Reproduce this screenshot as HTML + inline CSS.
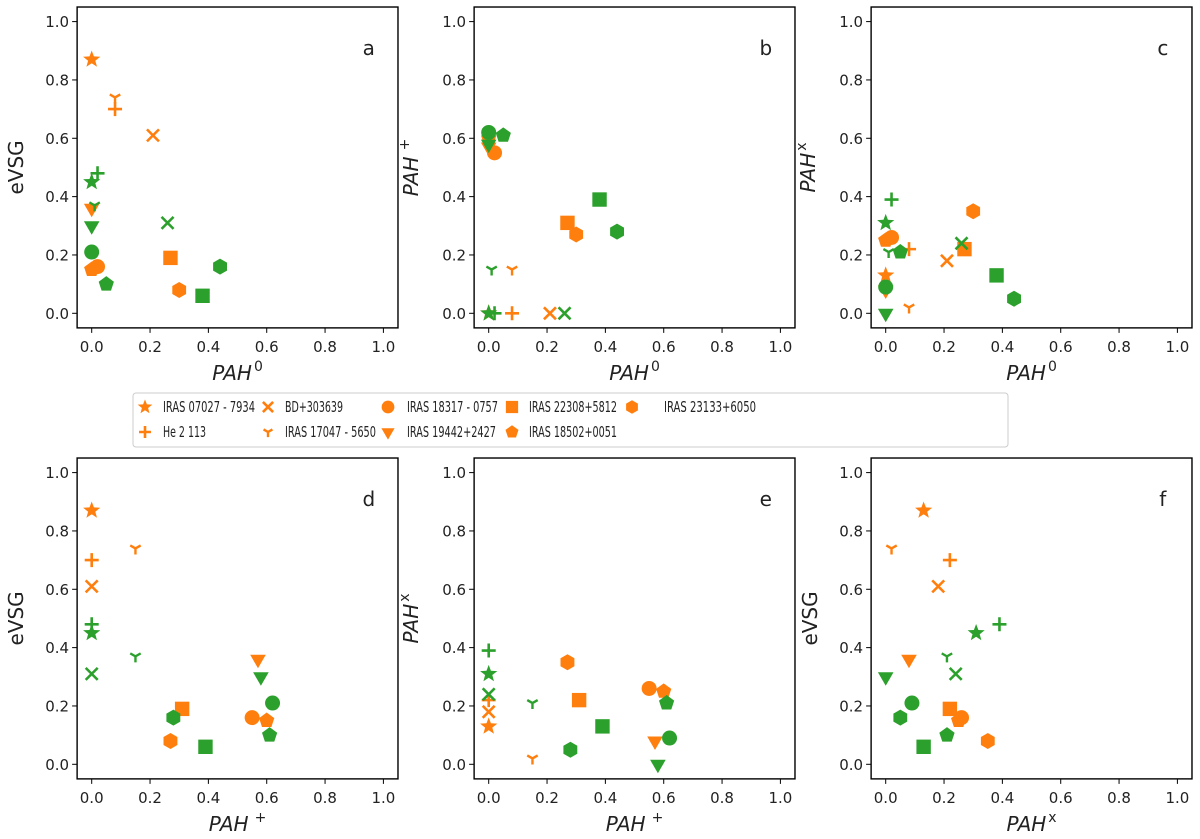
<!DOCTYPE html>
<html><head><meta charset="utf-8"><style>
html,body{margin:0;padding:0;background:#fff}
svg{display:block}
text{font-family:"DejaVu Sans","Liberation Sans",sans-serif;fill:#222}
</style></head><body>
<svg id="fig" width="1200" height="839" viewBox="0 0 1200 839" xmlns="http://www.w3.org/2000/svg"></svg>
<script>
// Data: one entry per object (marker), orange and green groups
const markers = ['star','plus','x','tri','circle','vtri','square','pent','hex'];
const orangePAH0 = [0.00,0.08,0.21,0.08,0.02,0.00,0.27,0.00,0.30];
const orangePAHp = [0.00,0.00,0.00,0.15,0.55,0.57,0.31,0.60,0.27];
const orangePAHx = [0.13,0.22,0.18,0.02,0.26,0.08,0.22,0.25,0.35];
const orangeEVSG = [0.87,0.70,0.61,0.74,0.16,0.36,0.19,0.15,0.08];
const greenPAH0 = [0.00,0.02,0.26,0.01,0.00,0.00,0.38,0.05,0.44];
const greenPAHp = [0.00,0.00,0.00,0.15,0.62,0.58,0.39,0.61,0.28];
const greenPAHx = [0.31,0.39,0.24,0.21,0.09,0.00,0.13,0.21,0.05];
const greenEVSG = [0.45,0.48,0.31,0.37,0.21,0.30,0.06,0.10,0.16];
const ticks = [0,0.2,0.4,0.6,0.8,1.0];
const tickLabels = ['0.0','0.2','0.4','0.6','0.8','1.0'];
const legendLabels = ['IRAS 07027 - 7934','He 2 113','BD+303639','IRAS 17047 - 5650','IRAS 18317 - 0757','IRAS 19442+2427','IRAS 22308+5812','IRAS 18502+0051','IRAS 23133+6050'];

const NS='http://www.w3.org/2000/svg';
const svg=document.getElementById('fig');
const OR='#ff7f0e', GR='#2ca02c';
function mk(tag,attrs,parent){const e=document.createElementNS(NS,tag);for(const k in attrs)e.setAttribute(k,attrs[k]);(parent||svg).appendChild(e);return e;}
function poly(n,r,rot,cx,cy){let p=[];for(let i=0;i<n;i++){const a=rot+i*2*Math.PI/n;p.push((cx+r*Math.cos(a)).toFixed(1)+','+(cy+r*Math.sin(a)).toFixed(1));}return p.join(' ');}
function drawMarker(g,m,cx,cy,col,s){
  s=s||1;let e;
  if(m==='star'){let p=[];for(let i=0;i<10;i++){const r=(i%2?3.8:9)*s;const a=-Math.PI/2+i*Math.PI/5;p.push((cx+r*Math.cos(a)).toFixed(1)+','+(cy+r*Math.sin(a)).toFixed(1));}e=mk('polygon',{points:p.join(' '),fill:col},g);}
  else if(m==='plus'){e=mk('path',{d:`M${cx-7*s},${cy}H${cx+7*s}M${cx},${cy-7*s}V${cy+7*s}`,stroke:col,'stroke-width':2.6,fill:'none'},g);}
  else if(m==='x'){const d=6*s;e=mk('path',{d:`M${cx-d},${cy-d}L${cx+d},${cy+d}M${cx-d},${cy+d}L${cx+d},${cy-d}`,stroke:col,'stroke-width':2.6,fill:'none'},g);}
  else if(m==='tri'){const d=6*s;e=mk('path',{d:`M${cx},${cy}V${cy+d}M${cx},${cy}L${cx-d*0.87},${cy-d*0.5}M${cx},${cy}L${cx+d*0.87},${cy-d*0.5}`,stroke:col,'stroke-width':2.4,fill:'none'},g);}
  else if(m==='circle'){e=mk('circle',{cx:cx,cy:cy,r:7.5*s,fill:col},g);}
  else if(m==='vtri'){e=mk('polygon',{points:poly(3,9*s,Math.PI/2,cx,cy),fill:col},g);}
  else if(m==='square'){const d=7.2*s;e=mk('rect',{x:cx-d,y:cy-d,width:2*d,height:2*d,fill:col},g);}
  else if(m==='pent'){e=mk('polygon',{points:poly(5,8*s,-Math.PI/2,cx,cy),fill:col},g);}
  else if(m==='hex'){e=mk('polygon',{points:poly(6,8*s,-Math.PI/2,cx,cy),fill:col},g);}
  return e;
}
const vars={P0:[orangePAH0,greenPAH0],Pp:[orangePAHp,greenPAHp],Px:[orangePAHx,greenPAHx],E:[orangeEVSG,greenEVSG]};
const labelSup={P0:'0',Pp:'+',Px:'x'};
const panels=[['a','P0','E',0,0],['b','P0','Pp',1,0],['c','P0','Px',2,0],['d','Pp','E',0,1],['e','Pp','Px',1,1],['f','Px','E',2,1]];
const SC=291.7;
function axLabel(g,v,x,y,rot){
  const t=mk('text',{x:x,y:y,'font-size':20,'text-anchor':'middle'},g);
  if(rot)t.setAttribute('transform',`rotate(-90 ${x} ${y})`);
  if(v==='E'){t.textContent='eVSG';return t;}
  const a=mk('tspan',{'font-style':'italic'},t);a.textContent='PAH';
  const b=mk('tspan',{'font-size':14,dy:-9,dx:v==='Pp'?6:2},t);b.textContent=labelSup[v];
  return t;
}
panels.forEach(([lab,xv,yv,c,r])=>{
  const ox=91.7+397*c, oy=313.3+451*r;
  const X=v=>ox+v*SC, Y=v=>oy-v*SC;
  const g=mk('g',{});
  
  
  const frame=mk('rect',{x:X(-0.05),y:Y(1.05),width:1.1*SC,height:1.1*SC,fill:'none',stroke:'#000','stroke-width':1.4},g);
  
  
  ticks.forEach((t,i)=>{
    mk('line',{x1:X(t),x2:X(t),y1:Y(-0.05),y2:Y(-0.05)+5,stroke:'#000','stroke-width':1},g);
    const tx=mk('text',{x:X(t),y:Y(-0.05)+24,'font-size':15,'text-anchor':'middle'},g);tx.textContent=tickLabels[i];
    
    
    mk('line',{x1:X(-0.05)-5,x2:X(-0.05),y1:Y(t),y2:Y(t),stroke:'#000','stroke-width':1},g);
    const ty=mk('text',{x:X(-0.05)-8,y:Y(t)+5.5,'font-size':15,'text-anchor':'end'},g);ty.textContent=tickLabels[i];
    
    
  });
  const xl=axLabel(g,xv,X(0.5),Y(-0.05)+52,false);
  
  
  const yl=axLabel(g,yv,X(-0.05)-58+(yv==='E'?4:2),Y(0.5),true);
  
  
  const pl=mk('text',{x:X(0.95),y:Y(0.9)+4,'font-size':20,'text-anchor':'middle'},g);pl.textContent=lab;
  
  
  [0,1].forEach(gi=>{
    const col=gi?GR:OR;
    markers.forEach((m,i)=>{
      const e=drawMarker(g,m,X(vars[xv][gi][i]),Y(vars[yv][gi][i]),col);
      
      
    });
  });
});
// legend
const lg=mk('g',{});


mk('rect',{x:133,y:393,width:875,height:54,rx:3,fill:'#fff',stroke:'#ccc','stroke-width':1},lg);
const colMX=[145,268,388,512,632], colTX=[163,285,407,529,664];
const labelW=[92,43,58,91,91,89,88,88,92];
legendLabels.forEach((l,i)=>{
  const c=Math.floor(i/2), rr=i%2, y=406+rr*25;
  const e=mk('g',{},lg);
  
  
  drawMarker(e,markers[i],colMX[c],y+1,OR,0.85);
  const t=mk('text',{x:colTX[c],y:y+6,'font-size':15.5,textLength:labelW[i],lengthAdjust:'spacingAndGlyphs'},e);t.textContent=l;
});
</script>
</body></html>
